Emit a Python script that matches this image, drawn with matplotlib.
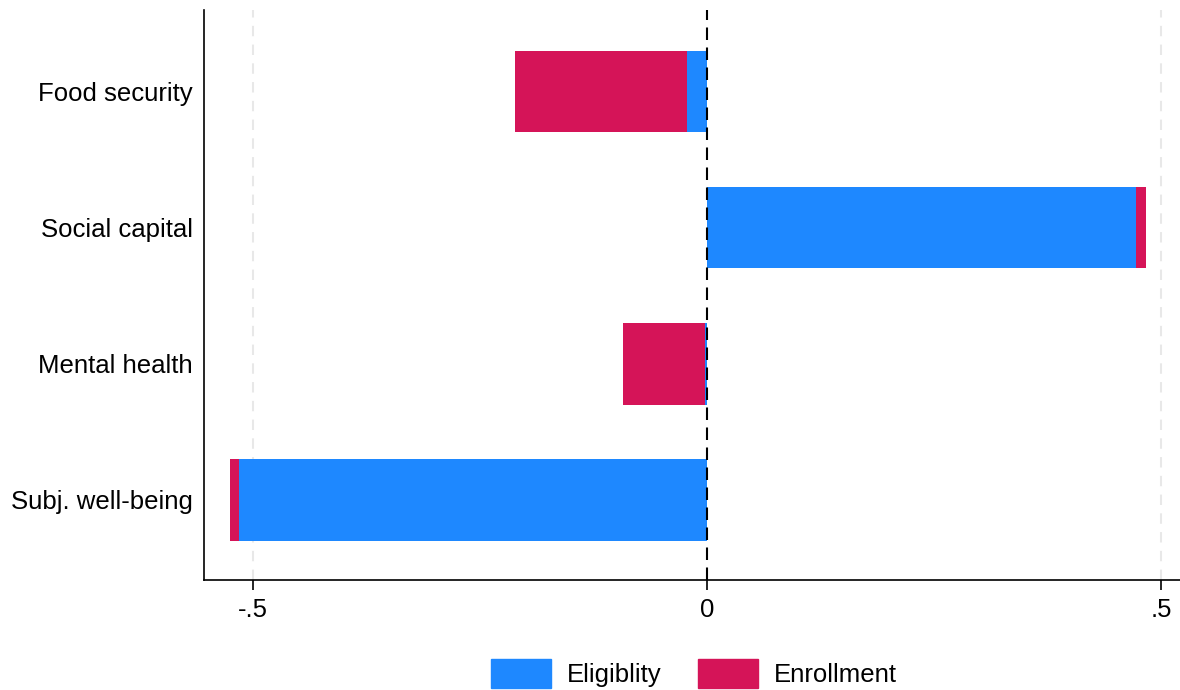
import numpy as np
import matplotlib
matplotlib.use('Agg')
import matplotlib.pyplot as plt
from matplotlib.patches import Patch

plt.rcParams['font.family'] = ['Liberation Sans', 'DejaVu Sans']

outcomes = ['Food security', 'Social capital', 'Mental health', 'Subj. well-being']
eligibility = [-0.022, 0.472, -0.002, -0.515]
enrollment = [-0.189, 0.012, -0.090, -0.010]
xticks = [-0.5, 0, 0.5]
xticklabels = ['-.5', '0', '.5']

blue = '#1e88ff'
red = '#d51458'
fs = 18.5

fig = plt.figure(figsize=(11.8, 6.9), dpi=100)
ax = fig.add_axes([0.1729, 0.1594, 0.8271, 0.8261])

ypos = np.arange(len(outcomes), 0, -1)
elig = np.array(eligibility)
enr = np.array(enrollment)
ax.barh(ypos, elig, height=0.6, color=blue, zorder=3)
ax.barh(ypos, enr, left=elig, height=0.6, color=red, zorder=3)

ax.axvline(0, color='black', ls=(0, (6, 3.6)), lw=1.5, zorder=4)
for t in [-0.5, 0.5]:
    ax.axvline(t, color='#e8e8e8', ls=(0, (5, 4)), lw=1.5, zorder=1)

ax.set_xlim(-0.554, 0.521)
ax.set_ylim(0.41, 4.6)
ax.set_yticks(ypos)
ax.set_yticklabels(outcomes, fontsize=fs)
ax.tick_params(axis='y', length=0, pad=8)
ax.set_xticks(xticks)
ax.set_xticklabels(xticklabels, fontsize=fs)
ax.tick_params(axis='x', length=7, width=1.2, pad=6)

ax.spines['top'].set_visible(False)
ax.spines['right'].set_visible(False)
ax.spines['left'].set_linewidth(1.2)
ax.spines['bottom'].set_linewidth(1.2)

handles = [Patch(color=blue, label='Eligiblity'), Patch(color=red, label='Enrollment')]
fig.legend(handles=handles, loc='lower center', bbox_to_anchor=(0.588, -0.012), ncol=2,
           frameon=False, fontsize=fs, handlelength=2.33, handleheight=1.33,
           columnspacing=1.44, handletextpad=0.62, borderaxespad=0)

fig.savefig('out.png', dpi=100)
